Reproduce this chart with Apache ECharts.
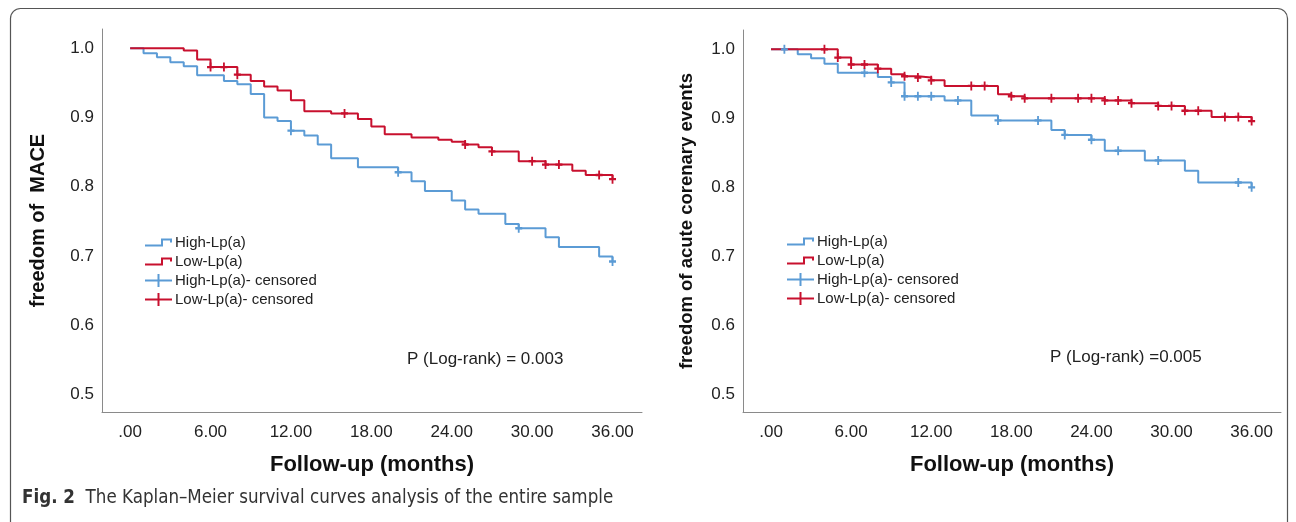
<!DOCTYPE html>
<html>
<head>
<meta charset="UTF-8">
<title>Kaplan-Meier Lp(a)</title>
<script src="https://cdn.jsdelivr.net/npm/echarts@6/dist/echarts.min.js"></script>
<style type="text/css">
    html,body{ margin:0; padding:0; background:#fff; }
</style>
</head>
<body>
<div id="container" style="width:1296px;height:522px"></div>
<script type="text/javascript">
// x ticks (months) and y ticks (survival)
var monthTicks = [0, 6, 12, 18, 24, 30, 36];
var survTicks = [0.5, 0.6, 0.7, 0.8, 0.9, 1.0];

// left panel: freedom of MACE
var maceHighT = [0,1,2,3,4,5,7,8,9,10,11,12,13,14,15,17,20,21,22,24,25,26,28,29,31,32,35,36];
var maceHighS = [1.0,0.993,0.987,0.980,0.974,0.961,0.953,0.948,0.934,0.900,0.895,0.881,0.874,0.861,0.841,0.828,0.821,0.808,0.794,0.780,0.767,0.761,0.746,0.740,0.727,0.713,0.699,0.692];
var maceHighCens = [12,20,29,36];
var maceLowT = [0,4,5,6,8,9,10,11,12,13,15,17,18,19,21,23,24,25,26,27,29,31,33,34,36];
var maceLowS = [1.0,0.997,0.984,0.973,0.962,0.953,0.945,0.939,0.925,0.909,0.906,0.898,0.887,0.876,0.871,0.868,0.865,0.861,0.857,0.851,0.837,0.832,0.823,0.817,0.811];
var maceLowCens = [6,7,8,16,25,27,30,31,32,35,36];

// right panel: freedom of acute coronary events
var aceHighT = [0,2,3,4,5,8,9,10,13,15,17,21,22,24,25,28,31,32,36];
var aceHighS = [1.0,0.993,0.987,0.979,0.966,0.960,0.952,0.932,0.926,0.904,0.897,0.883,0.876,0.869,0.853,0.839,0.824,0.807,0.800];
var aceHighCens = [1,7,9,10,11,12,14,17,20,22,24,26,29,35,36];
var aceLowT = [0,5,6,8,9,10,11,12,13,17,18,19,25,27,29,31,33,36];
var aceLowS = [1.0,0.988,0.978,0.972,0.964,0.961,0.959,0.955,0.947,0.935,0.932,0.929,0.926,0.922,0.918,0.911,0.902,0.896];
var aceLowCens = [4,5,6,7,8,10,11,12,15,16,18,19,21,23,24,25,26,27,29,30,31,32,34,35,36];

var BLUE = '#5b9bd5';
var RED = '#c8102e';
var FONT = 'Liberation Sans, Arial, sans-serif';
var CAPFONT = 'Liberation Sans Narrow, DejaVu Sans Condensed, sans-serif';
var CROSS = 'path://M0,3.7 L10,3.7 L10,6.3 L0,6.3 Z M3.7,0 L6.3,0 L6.3,10 L3.7,10 Z';
var STEP_ICON = 'path://M0,6 L16,6 L16,0 L27,0 L27,4 L25,4 L25,2 L18,2 L18,8 L0,8 Z';
var CROSS_ICON = 'path://M0,5.5 L27,5.5 L27,7.5 L0,7.5 Z M12.5,0 L14.5,0 L14.5,13 L12.5,13 Z';

function pairs(t, s) {
    return t.map(function (v, i) { return [v, s[i]]; });
}
// survival value of the step curve at time x
function survAt(t, s, x) {
    var v = s[0];
    for (var i = 0; i < t.length; i++) { if (t[i] <= x) v = s[i]; }
    return v;
}
function censored(t, s, c) {
    return c.map(function (x) { return [x, survAt(t, s, x)]; });
}

function stepSeries(name, idx, color, t, s) {
    return {
        name: name, type: 'line', step: 'end', xAxisIndex: idx, yAxisIndex: idx,
        data: pairs(t, s), symbol: 'none', color: color,
        lineStyle: { color: color, width: 2 }, silent: true, z: 3
    };
}
function censSeries(name, idx, color, t, s, c) {
    return {
        name: name, type: 'scatter', xAxisIndex: idx, yAxisIndex: idx,
        data: censored(t, s, c), symbol: CROSS, symbolSize: [7, 9], color: color,
        itemStyle: { color: color, opacity: 1 }, silent: true, z: 4
    };
}

function xAxisFor(idx) {
    return {
        type: 'value', gridIndex: idx, min: -2.1, max: 38.2,
        axisLine: { show: true, onZero: false, lineStyle: { color: '#8a8a8a', width: 1 } },
        axisTick: { show: false }, splitLine: { show: false },
        axisLabel: {
            customValues: monthTicks, margin: 12, color: '#222', fontSize: 17, fontFamily: FONT,
            formatter: function (v) { return v === 0 ? '.00' : v.toFixed(2); }
        },
        name: 'Follow-up (months)', nameLocation: 'middle', nameGap: 42,
        nameTextStyle: { fontSize: 22, fontWeight: 'bold', color: '#111', fontFamily: FONT }
    };
}
function yAxisFor(idx, title, gap, size) {
    return {
        type: 'value', gridIndex: idx, min: 0.4744, max: 1.028,
        axisLine: { show: true, onZero: false, lineStyle: { color: '#8a8a8a', width: 1 } },
        axisTick: { show: false }, splitLine: { show: false },
        axisLabel: {
            customValues: survTicks, margin: 8, color: '#222', fontSize: 17, fontFamily: FONT,
            formatter: function (v) { return v.toFixed(1); }
        },
        name: title, nameLocation: 'middle', nameRotate: 90, nameGap: gap,
        nameTextStyle: { fontSize: size, fontWeight: 'bold', color: '#111', fontFamily: FONT }
    };
}

function legendFor(left, top) {
    return {
        orient: 'vertical', left: left, top: top, padding: 0, itemGap: 4,
        itemWidth: 27, itemHeight: 13, selectedMode: false,
        itemStyle: { borderWidth: 0, opacity: 1 },
        textStyle: { fontSize: 15, color: '#222', fontFamily: FONT, lineHeight: 15, padding: [0, 0, 0, -2] },
        data: [
            { name: 'High-Lp(a)', icon: STEP_ICON },
            { name: 'Low-Lp(a)', icon: STEP_ICON },
            { name: 'High-Lp(a)- censored', icon: CROSS_ICON },
            { name: 'Low-Lp(a)- censored', icon: CROSS_ICON }
        ]
    };
}

var chart = echarts.init(document.getElementById('container'));
var option = {
    animation: false,
    backgroundColor: '#fff',
    grid: [
        { left: 102, top: 29, width: 540, height: 383, outerBoundsMode: 'none' },
        { left: 743, top: 30, width: 538, height: 382, outerBoundsMode: 'none' }
    ],
    xAxis: [xAxisFor(0), xAxisFor(1)],
    yAxis: [
        yAxisFor(0, 'freedom of  MACE', 54, 20),
        yAxisFor(1, 'freedom of acute corenary events', 47, 18.5)
    ],
    legend: [legendFor(145, 235), legendFor(787, 234)],
    series: [
        stepSeries('High-Lp(a)', 0, BLUE, maceHighT, maceHighS),
        stepSeries('Low-Lp(a)', 0, RED, maceLowT, maceLowS),
        censSeries('High-Lp(a)- censored', 0, BLUE, maceHighT, maceHighS, maceHighCens),
        censSeries('Low-Lp(a)- censored', 0, RED, maceLowT, maceLowS, maceLowCens),
        stepSeries('High-Lp(a)', 1, BLUE, aceHighT, aceHighS),
        stepSeries('Low-Lp(a)', 1, RED, aceLowT, aceLowS),
        censSeries('High-Lp(a)- censored', 1, BLUE, aceHighT, aceHighS, aceHighCens),
        censSeries('Low-Lp(a)- censored', 1, RED, aceLowT, aceLowS, aceLowCens)
    ],
    graphic: [
        // figure frame (open at the bottom)
        { type: 'rect', shape: { x: 10.5, y: 8.5, width: 1277, height: 560, r: 10 },
          style: { fill: 'none', stroke: '#555', lineWidth: 1.2 }, silent: true },
        { type: 'text', left: 407, top: 351,
          style: { text: 'P (Log-rank) = 0.003', fontSize: 17, fill: '#222', fontFamily: FONT } },
        { type: 'text', left: 1050, top: 349,
          style: { text: 'P (Log-rank) =0.005', fontSize: 17, fill: '#222', fontFamily: FONT } },
        { type: 'text', left: 22, top: 489,
          style: {
              text: '{b|Fig. 2}  The Kaplan\u2013Meier survival curves analysis of the entire sample',
              fontSize: 18.6, fill: '#333', fontFamily: CAPFONT,
              rich: { b: { fontSize: 18.6, fontWeight: 'bold', fill: '#333', fontFamily: CAPFONT } }
          } }
    ]
};
chart.setOption(option);
</script>
</body>
</html>
